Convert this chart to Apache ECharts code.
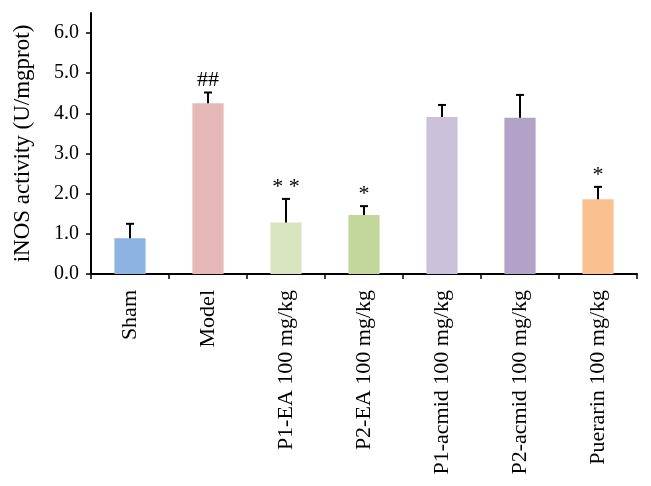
<!DOCTYPE html>
<html><head><meta charset="utf-8">
<script src="https://cdn.jsdelivr.net/npm/echarts@6/dist/echarts.min.js"></script>
<style>html,body{margin:0;padding:0;background:#fff}#c{width:651px;height:486px}</style>
</head><body><div id="c"></div>
<script>
const categories = ['Sham','Model','P1-EA 100 mg/kg','P2-EA 100 mg/kg','P1-acmid 100 mg/kg','P2-acmid 100 mg/kg','Puerarin 100 mg/kg'];
const values = [0.89, 4.25, 1.28, 1.47, 3.91, 3.89, 1.86];
const errors = [0.36, 0.27, 0.59, 0.22, 0.30, 0.57, 0.31];
const marks = ['', '##', '* *', '*', '', '', '*'];
const colors = ['#8DB3E2','#E6B8B7','#D7E4BD','#C3D69B','#CCC1DA','#B3A2C7','#FAC090'];
const yTicks = [0,1,2,3,4,5,6];

const font = '"Liberation Serif", "DejaVu Serif", serif';
const chart = echarts.init(document.getElementById('c'));
chart.setOption({
  animation: false,
  grid: {left: 91, right: 14, top: 13, bottom: 212},
  xAxis: {
    type: 'category', data: categories,
    axisLine: {lineStyle: {color: '#000', width: 2}},
    axisTick: {show: true, length: 5, lineStyle: {color: '#000', width: 1.5}},
    axisLabel: {rotate: 90, margin: 16, color: '#000', fontFamily: font, fontSize: 22}
  },
  yAxis: {
    type: 'value', min: 0, max: 6.5, interval: 1,
    name: 'iNOS activity (U/mgprot)', nameLocation: 'middle', nameGap: 57,
    nameTextStyle: {color: '#000', fontFamily: font, fontSize: 23},
    axisLine: {show: true, lineStyle: {color: '#000', width: 2}},
    axisTick: {show: true, length: 5, customValues: yTicks, lineStyle: {color: '#000', width: 1.5}},
    axisLabel: {customValues: yTicks, color: '#000', fontFamily: font, fontSize: 20, margin: 12,
      formatter: v => v.toFixed(1)},
    splitLine: {show: false}
  },
  series: [
    {type: 'bar', barWidth: '40%',
     data: values.map((v, i) => ({value: v, itemStyle: {color: colors[i]}}))},
    {type: 'custom', z: 5,
     data: values.map((v, i) => [i, v, v + errors[i], marks[i]]),
     renderItem: function (params, api) {
       const p0 = api.coord([api.value(0), api.value(1)]);
       const p1 = api.coord([api.value(0), api.value(2)]);
       const hw = 4;
       const children = [
         {type: 'line', shape: {x1: p0[0], y1: p0[1], x2: p1[0], y2: p1[1]}, style: {stroke: '#000', lineWidth: 2}},
         {type: 'line', shape: {x1: p1[0]-hw, y1: p1[1], x2: p1[0]+hw, y2: p1[1]}, style: {stroke: '#000', lineWidth: 2}}
       ];
       const m = marks[params.dataIndex];
       if (m) {
         children.push({type: 'text', x: p1[0], y: p1[1] - 1,
           style: {text: m, fill: '#000', font: '22px ' + font, textAlign: 'center', textVerticalAlign: 'bottom'}});
       }
       return {type: 'group', children: children};
     }}
  ]
});
</script></body></html>
